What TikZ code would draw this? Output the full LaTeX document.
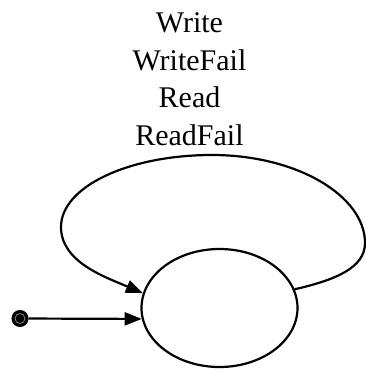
\documentclass[tikz,border=0pt]{standalone}
\usepackage{fontspec}
\setmainfont{Liberation Serif}
\usetikzlibrary{shapes.geometric, arrows.meta, positioning}

\begin{document}
\begin{tikzpicture}[
    x=1pt, y=-1pt,
    state/.style={ellipse, draw, line width=2.2pt, minimum width=156pt, minimum height=118pt, inner sep=0pt},
    init/.style={circle, fill=black, draw=black, line width=1pt, minimum size=16pt, inner sep=0pt,
        path picture={\draw[gray!70, line width=0.6pt] (path picture bounding box.center) circle (5pt);}},
    lbl/.style={align=center, inner sep=0pt, font=\fontsize{30}{37.5}\selectfont},
    arrow/.style={-{Triangle[length=17pt, width=13pt]}, line width=2.2pt}
]
\useasboundingbox (0,0) rectangle (366,369);

\node[state] (s) at (219.5,308) {};
\node[init] (start) at (20,318.5) {};
\node[lbl, anchor=north] (events) at (189.5,12.5) {Write\\WriteFail\\Read\\ReadFail};

% self loop round the top
\coordinate (loopR) at (365,243);
\coordinate (loopT) at (212,155);
\coordinate (loopL) at (61,227);

\draw[arrow] (start) -- (s.188);
\draw[arrow] (s.14) .. controls (335,280) and (365,268) .. (loopR)
    .. controls (365,196) and (297,155) .. (loopT)
    .. controls (128,155) and (61,187) .. (loopL)
    .. controls (61,262) and (105,277) .. (s.169);
\end{tikzpicture}
\end{document}
